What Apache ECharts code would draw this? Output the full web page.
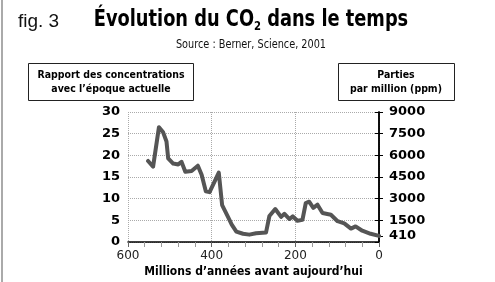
<!DOCTYPE html>
<html>
<head>
<meta charset="utf-8">
<script src="https://cdn.jsdelivr.net/npm/echarts@6/dist/echarts.min.js"></script>
<style>
  html, body { margin: 0; padding: 0; background: #fff; }
  #chart { width: 495px; height: 282px; }
</style>
</head>
<body>
<div id="chart"></div>
<script>
// données (Berner, 2001)
var ages = [552, 540, 526, 516, 508, 504, 492, 480, 472, 463, 448, 433, 424, 414, 405, 383, 375, 361, 352, 341,
            325, 310, 294, 270, 262, 248, 234, 226, 214, 206, 195, 183, 175, 167, 157, 147, 135, 115, 99, 83,
            67, 56, 40, 20, 0];
var ratios = [18.7, 17.4, 26.5, 25.3, 23.2, 19.3, 18.1, 17.9, 18.5, 16.2, 16.4, 17.6, 15.5, 11.7, 11.5, 16.0, 8.5, 5.8, 4.0, 2.4,
              1.9, 1.7, 2.0, 2.2, 6.0, 7.6, 5.8, 6.5, 5.3, 5.9, 4.9, 5.1, 9.0, 9.3, 7.9, 8.6, 6.7, 6.3, 4.8, 4.3,
              3.1, 3.6, 2.6, 1.9, 1.4];
var ppmLabels = [410, 1500, 3000, 4500, 6000, 7500, 9000];

var points = ages.map(function (a, i) { return [a, ratios[i]]; });

var chart = echarts.init(document.getElementById('chart'));

var condensed = "'DejaVu Sans Condensed', 'DejaVu Sans'";

var option = {
  animation: false,
  graphic: [
    { type: 'line', shape: { x1: 2, y1: 0, x2: 2, y2: 282 }, style: { stroke: '#aaa', lineWidth: 2 } },
    { type: 'text', x: 18, y: 12, style: { text: 'fig. 3', font: '19px Liberation Sans', fill: '#111' } },
    { type: 'text', x: 251, y: 8, scaleX: 0.86, style: {
      text: 'Évolution du CO{sub|2} dans le temps', align: 'center',
      font: 'bold 23px ' + condensed, fill: '#000',
      rich: { sub: { font: 'bold 13px ' + condensed, padding: [12, 0, 0, 0], fill: '#000' } }
    } },
    { type: 'text', x: 251, y: 39, scaleX: 0.9, style: { text: 'Source : Berner, Science, 2001', align: 'center',
      font: '12px ' + condensed, fill: '#111' } },
    { type: 'rect', shape: { x: 28.5, y: 63.5, width: 165, height: 37 }, style: { fill: '#fff', stroke: '#222', lineWidth: 1 } },
    { type: 'text', x: 111, y: 68, scaleX: 0.95, style: { text: 'Rapport des concentrations\navec l\u2019époque actuelle', align: 'center',
      font: 'bold 11px ' + condensed, fill: '#000', lineHeight: 14 } },
    { type: 'rect', shape: { x: 338.5, y: 63.5, width: 116, height: 37 }, style: { fill: '#fff', stroke: '#222', lineWidth: 1 } },
    { type: 'text', x: 396, y: 68, scaleX: 0.95, style: { text: 'Parties\npar million (ppm)', align: 'center',
      font: 'bold 11px ' + condensed, fill: '#000', lineHeight: 14 } }
  ],
  grid: { left: 128, right: 116, top: 112, bottom: 40 },
  xAxis: {
    type: 'value', inverse: true, min: 0, max: 600, interval: 200,
    name: 'Millions d\u2019années avant aujourd\u2019hui',
    nameLocation: 'middle', nameGap: 24,
    nameTextStyle: { fontFamily: condensed, fontWeight: 'bold', fontSize: 12, color: '#000' },
    axisLine: { show: true, lineStyle: { color: '#000', width: 1.5 } },
    axisTick: { show: true, length: 5, lineStyle: { color: '#666' } },
    minorTick: { show: true, splitNumber: 5, length: 5, lineStyle: { color: '#999' } },
    axisLabel: { fontFamily: 'DejaVu Sans', fontSize: 12, color: '#222', margin: 8 },
    splitLine: { show: true, lineStyle: { color: '#aaa', type: 'dotted' } }
  },
  yAxis: [{
    type: 'value', min: 0, max: 30, interval: 5, position: 'left',
    axisLine: { show: true, lineStyle: { color: '#000', width: 1.5 } },
    axisTick: { show: true, length: 4, lineStyle: { color: '#000' } },
    axisLabel: { fontFamily: 'DejaVu Sans', fontWeight: 'bold', fontSize: 13, color: '#000', margin: 8 },
    splitLine: { show: true, lineStyle: { color: '#aaa', type: 'dotted' } }
  }, {
    type: 'value', min: 0, max: 9000, interval: 1500, position: 'right',
    axisLine: { show: true, lineStyle: { color: '#000', width: 1.5 } },
    axisTick: { show: true, length: 4, customValues: ppmLabels, lineStyle: { color: '#000' } },
    axisLabel: {
      customValues: ppmLabels, formatter: function (v) { return String(v); },
      fontFamily: 'DejaVu Sans', fontWeight: 'bold', fontSize: 13, color: '#000', margin: 10
    },
    splitLine: { show: false }
  }],
  series: [{
    type: 'line',
    data: points,
    yAxisIndex: 0,
    showSymbol: false,
    lineStyle: { color: '#555', width: 4, join: 'round', cap: 'round' }
  }]
};

chart.setOption(option);
</script>
</body>
</html>
